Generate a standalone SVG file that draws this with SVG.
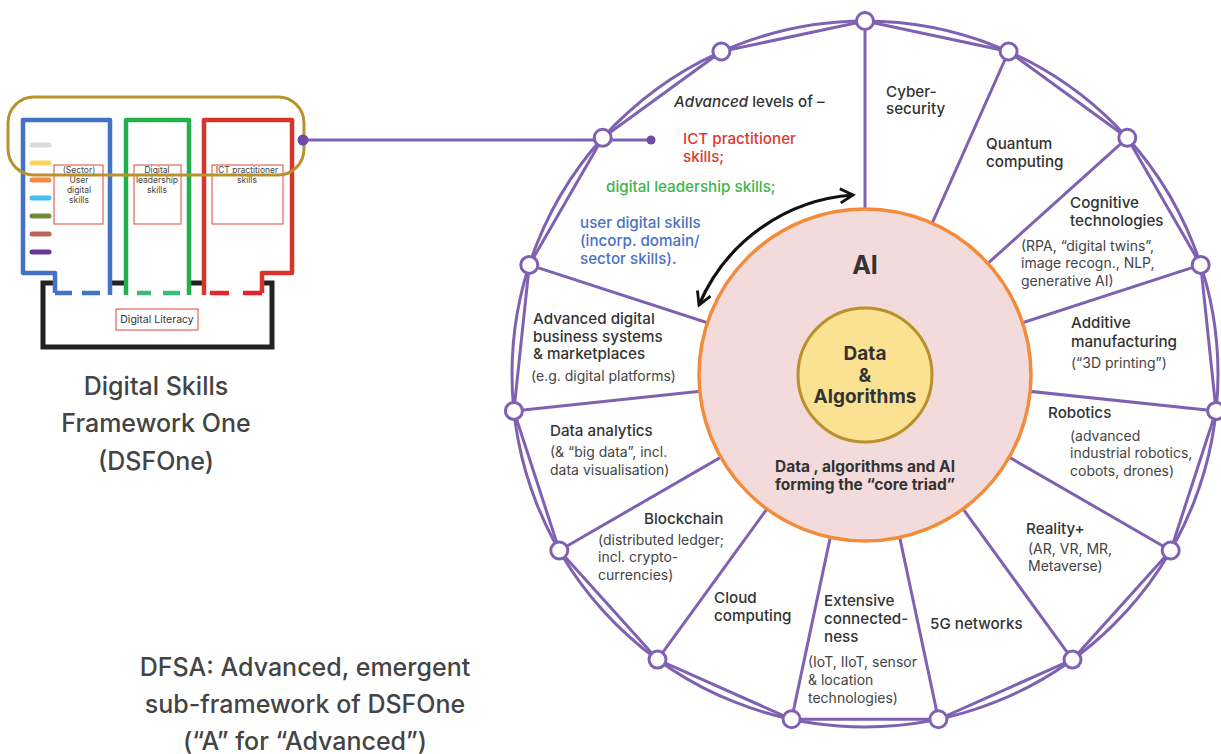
<svg xmlns="http://www.w3.org/2000/svg" width="1221" height="754" viewBox="0 0 1221 754">
  <style>
    text { font-family: Inter, "Liberation Sans", sans-serif; fill: #333; }
    .ring { fill: none; stroke: #7f61b2; stroke-width: 3; }
    .spoke { stroke: #7f61b2; stroke-width: 3; }
    .node { fill: #fff; stroke: #7f61b2; stroke-width: 3; }
    .hd { font-size: 15.2px; font-weight: 500; }
    .sub { font-size: 14px; font-weight: 400; fill: #444; }
    .small { font-size: 8.5px; fill: #444; text-anchor: middle; }
    .title { font-size: 25px; font-weight: 500; fill: #444; text-anchor: middle; }
    .rbox { fill: none; stroke: #e0473d; stroke-width: 1; }
    .chip { stroke-width: 5; stroke-linecap: round; }
  </style>
  <defs>
    <marker id="chev" viewBox="0 0 12 12" refX="10" refY="6" markerWidth="17" markerHeight="17" markerUnits="userSpaceOnUse" orient="auto-start-reverse">
      <path d="M1,1 L10,6 L1,11" fill="none" stroke="#111" stroke-width="2" stroke-linejoin="miter"/>
    </marker>
  </defs>
  <rect width="1221" height="754" fill="#fff"/>

  <!-- DSFOne framework sketch -->
  <g id="dsfone">
    <g fill="none" stroke="#222" stroke-width="5">
      <path d="M55,283 L43,283 L43,347 L272,347 L272,283 L262,283"/>
      <path d="M110,283 L126,283 M189,283 L204,283"/>
    </g>
    <g fill="none" stroke-width="4.5" stroke-linejoin="round">
      <path d="M55,293 L55,273 L23,273 L23,120 L110,120 L110,295" stroke="#4472c4"/>
      <path d="M55,293 L72,293 M82,293 L100,293" stroke="#4472c4"/>
      <path d="M126,295 L126,120 L189,120 L189,295" stroke="#22b04b"/>
      <path d="M137,293 L151,293 M163,293 L180,293" stroke="#3dbb7a"/>
      <path d="M204,295 L204,120 L292,120 L292,273 L262,273 L262,293" stroke="#d9342b"/>
      <path d="M210,293 L229,293 M243,293 L262,293" stroke="#e8232f"/>
    </g>
    <g class="chip">
      <line x1="32" y1="145" x2="49" y2="145" stroke="#dcdcdc"/>
      <line x1="32" y1="163" x2="49" y2="163" stroke="#fdd55a"/>
      <line x1="32" y1="180" x2="49" y2="180" stroke="#f68a45"/>
      <line x1="32" y1="198" x2="49" y2="198" stroke="#45c0ef"/>
      <line x1="32" y1="216" x2="49" y2="216" stroke="#6e8c3a"/>
      <line x1="32" y1="234" x2="49" y2="234" stroke="#c0625a"/>
      <line x1="32" y1="252" x2="49" y2="252" stroke="#6f3596"/>
    </g>
    <rect class="rbox" x="54" y="165" width="49" height="59"/>
    <text class="small" x="79" y="173">(Sector)</text>
    <text class="small" x="79" y="183">User</text>
    <text class="small" x="79" y="193">digital</text>
    <text class="small" x="79" y="203">skills</text>
    <rect class="rbox" x="134" y="165" width="47" height="59"/>
    <text class="small" x="157" y="173">Digital</text>
    <text class="small" x="157" y="183">leadership</text>
    <text class="small" x="157" y="193">skills</text>
    <rect class="rbox" x="212" y="165" width="71" height="59"/>
    <text class="small" x="247" y="173">ICT practitioner</text>
    <text class="small" x="247" y="183">skills</text>
    <rect class="rbox" x="116" y="309" width="82" height="21"/>
    <text x="157" y="323" font-size="10.5" fill="#333" text-anchor="middle">Digital Literacy</text>
    <rect x="8" y="97" width="296" height="78" rx="26" fill="none" stroke="#b8922e" stroke-width="3"/>
  </g>

  <g id="dsfone-title">
    <text class="title" x="156" y="395">Digital Skills</text>
    <text class="title" x="156" y="432">Framework One</text>
    <text class="title" x="156" y="470">(DSFOne)</text>
  </g>

  <g id="dfsa-title">
    <text class="title" x="305" y="676">DFSA: Advanced, emergent</text>
    <text class="title" x="305" y="713">sub-framework of DSFOne</text>
    <text class="title" x="305" y="750">(“A” for “Advanced”)</text>
  </g>

  <!-- connectors: link line, spokes, outer ring -->
  <g id="connectors">
    <line x1="303" y1="140" x2="651" y2="140" stroke="#7f61b2" stroke-width="3"/>
    <circle cx="303" cy="140" r="5.5" fill="#6f4aa6"/>
    <circle cx="651" cy="140" r="4.5" fill="#6f4aa6"/>
    <g class="spoke">
      <line x1="865" y1="21" x2="865" y2="374"/>
      <line x1="1008.6" y1="51.5" x2="865" y2="374"/>
      <line x1="1127.3" y1="137.8" x2="865" y2="374"/>
      <line x1="1200.7" y1="264.9" x2="865" y2="374"/>
      <line x1="1216.1" y1="410.9" x2="865" y2="374"/>
      <line x1="1170.7" y1="550.5" x2="865" y2="374"/>
      <line x1="1072.5" y1="659.6" x2="865" y2="374"/>
      <line x1="938.4" y1="719.3" x2="865" y2="374"/>
      <line x1="791.6" y1="719.3" x2="865" y2="374"/>
      <line x1="657.5" y1="659.6" x2="865" y2="374"/>
      <line x1="559.3" y1="550.5" x2="865" y2="374"/>
      <line x1="513.9" y1="410.9" x2="865" y2="374"/>
      <line x1="529.3" y1="264.9" x2="865" y2="374"/>
    </g>
    <circle class="ring" cx="865" cy="374" r="353"/>
    <polygon class="ring" points="865,21 1008.6,51.5 1127.3,137.8 1200.7,264.9 1216.1,410.9 1170.7,550.5 1072.5,659.6 938.4,719.3 791.6,719.3 657.5,659.6 559.3,550.5 513.9,410.9 529.3,264.9 602.7,137.8 721.4,51.5"/>
    <path d="M699,305 A181,181 0 0 1 853,195" fill="none" stroke="#111" stroke-width="3.2" marker-start="url(#chev)" marker-end="url(#chev)"/>
  </g>

  <g id="ring-nodes">
    <circle class="node" cx="865" cy="21" r="8.5"/>
    <circle class="node" cx="1008.6" cy="51.5" r="8.5"/>
    <circle class="node" cx="1127.3" cy="137.8" r="8.5"/>
    <circle class="node" cx="1200.7" cy="264.9" r="8.5"/>
    <circle class="node" cx="1216.1" cy="410.9" r="8.5"/>
    <circle class="node" cx="1170.7" cy="550.5" r="8.5"/>
    <circle class="node" cx="1072.5" cy="659.6" r="8.5"/>
    <circle class="node" cx="938.4" cy="719.3" r="8.5"/>
    <circle class="node" cx="791.6" cy="719.3" r="8.5"/>
    <circle class="node" cx="657.5" cy="659.6" r="8.5"/>
    <circle class="node" cx="559.3" cy="550.5" r="8.5"/>
    <circle class="node" cx="513.9" cy="410.9" r="8.5"/>
    <circle class="node" cx="529.3" cy="264.9" r="8.5"/>
    <circle class="node" cx="602.7" cy="137.8" r="8.5"/>
    <circle class="node" cx="721.4" cy="51.5" r="8.5"/>
  </g>

  <!-- core triad -->
  <g id="core">
    <circle cx="865" cy="375" r="166" fill="#f3dadb" stroke="#f28c3a" stroke-width="3.5"/>
    <circle cx="865" cy="375" r="67" fill="#fbe293" stroke="#b8902c" stroke-width="3"/>
    <text x="865" y="274" font-size="25" font-weight="700" text-anchor="middle">AI</text>
    <text x="865" y="360" font-size="19" font-weight="700" text-anchor="middle">Data</text>
    <text x="865" y="382" font-size="19" font-weight="700" text-anchor="middle">&amp;</text>
    <text x="865" y="403" font-size="19" font-weight="700" text-anchor="middle">Algorithms</text>
    <text x="865" y="472" font-size="15.5" font-weight="700" text-anchor="middle">Data , algorithms and AI</text>
    <text x="865" y="490" font-size="15.5" font-weight="700" text-anchor="middle">forming the “core triad”</text>
  </g>

  <g id="advanced-levels">
    <text class="hd" x="674" y="107"><tspan font-style="italic">Advanced</tspan> levels of –</text>
    <text class="hd" x="683" y="144" style="fill:#e0382e">ICT practitioner</text>
    <text class="hd" x="683" y="162" style="fill:#e0382e">skills;</text>
    <text class="hd" x="606" y="192" style="fill:#3cb54a">digital leadership skills;</text>
    <text class="hd" x="580" y="228" style="fill:#4a72c4">user digital skills</text>
    <text class="hd" x="580" y="246" style="fill:#4a72c4">(incorp. domain/</text>
    <text class="hd" x="580" y="264" style="fill:#4a72c4">sector skills).</text>
  </g>

  <g id="cybersecurity">
    <text class="hd" x="886" y="97">Cyber-</text>
    <text class="hd" x="886" y="114">security</text>
  </g>
  <g id="quantum">
    <text class="hd" x="986" y="149">Quantum</text>
    <text class="hd" x="986" y="167">computing</text>
  </g>
  <g id="cognitive">
    <text class="hd" x="1070" y="208">Cognitive</text>
    <text class="hd" x="1070" y="226">technologies</text>
    <text class="sub" x="1021" y="251">(RPA, “digital twins”,</text>
    <text class="sub" x="1021" y="268">image recogn., NLP,</text>
    <text class="sub" x="1021" y="286">generative AI)</text>
  </g>
  <g id="additive">
    <text class="hd" x="1071" y="328">Additive</text>
    <text class="hd" x="1071" y="347">manufacturing</text>
    <text class="sub" x="1071" y="368">(“3D printing”)</text>
  </g>
  <g id="robotics">
    <text class="hd" x="1048" y="418">Robotics</text>
    <text class="sub" x="1070" y="441">(advanced</text>
    <text class="sub" x="1070" y="458">industrial robotics,</text>
    <text class="sub" x="1070" y="476">cobots, drones)</text>
  </g>
  <g id="reality">
    <text class="hd" x="1026" y="534">Reality+</text>
    <text class="sub" x="1028" y="554">(AR, VR, MR,</text>
    <text class="sub" x="1028" y="571">Metaverse)</text>
  </g>
  <g id="fiveg">
    <text class="hd" x="930" y="629">5G networks</text>
  </g>
  <g id="connectedness">
    <text class="hd" x="824" y="606">Extensive</text>
    <text class="hd" x="824" y="624">connected-</text>
    <text class="hd" x="824" y="642">ness</text>
    <text class="sub" x="808" y="667">(IoT, IIoT, sensor</text>
    <text class="sub" x="808" y="685">&amp; location</text>
    <text class="sub" x="808" y="703">technologies)</text>
  </g>
  <g id="cloud">
    <text class="hd" x="714" y="603">Cloud</text>
    <text class="hd" x="714" y="621">computing</text>
  </g>
  <g id="blockchain">
    <text class="hd" x="644" y="524">Blockchain</text>
    <text class="sub" x="598" y="545">(distributed ledger;</text>
    <text class="sub" x="598" y="562">incl. crypto-</text>
    <text class="sub" x="598" y="580">currencies)</text>
  </g>
  <g id="analytics">
    <text class="hd" x="550" y="436">Data analytics</text>
    <text class="sub" x="550" y="457">(&amp; “big data”, incl.</text>
    <text class="sub" x="550" y="475">data visualisation)</text>
  </g>
  <g id="business">
    <text class="hd" x="533" y="324">Advanced digital</text>
    <text class="hd" x="533" y="342">business systems</text>
    <text class="hd" x="533" y="359">&amp; marketplaces</text>
    <text class="sub" x="531" y="381">(e.g. digital platforms)</text>
  </g>
</svg>
